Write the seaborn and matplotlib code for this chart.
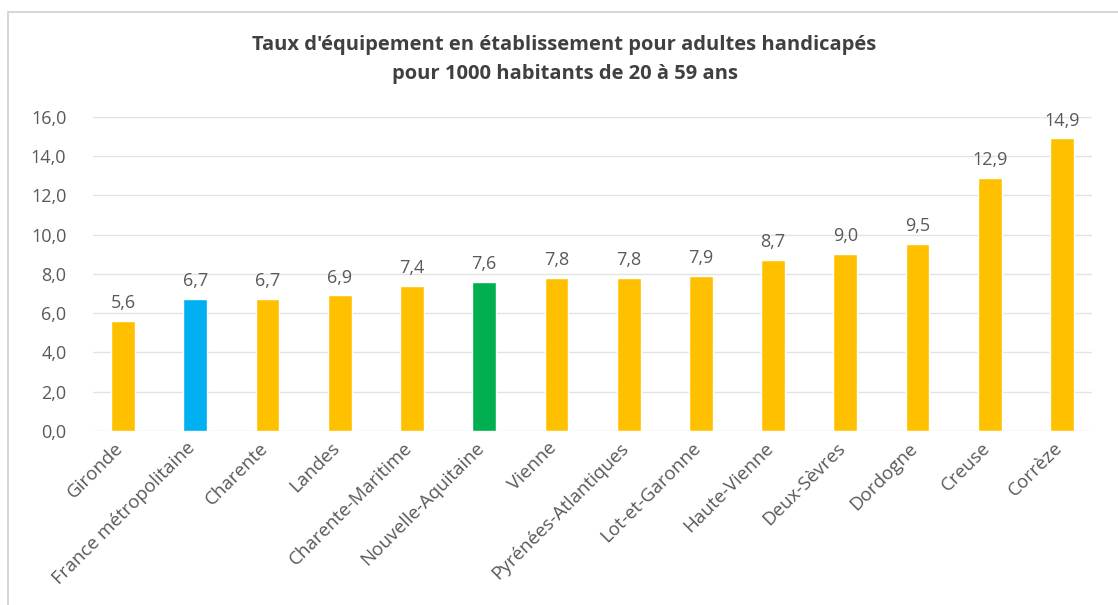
import matplotlib
matplotlib.use("Agg")
import matplotlib.pyplot as plt
import matplotlib.transforms as mtransforms
import seaborn as sns
import pandas as pd
from matplotlib.patches import Rectangle

territoires = ["Gironde", "France métropolitaine", "Charente", "Landes",
               "Charente-Maritime", "Nouvelle-Aquitaine", "Vienne",
               "Pyrénées-Atlantiques", "Lot-et-Garonne", "Haute-Vienne",
               "Deux-Sèvres", "Dordogne", "Creuse", "Corrèze"]
taux = [5.6, 6.7, 6.7, 6.9, 7.4, 7.6, 7.8, 7.8, 7.9, 8.7, 9.0, 9.5, 12.9, 14.9]

ORANGE, BLUE, GREEN = "#FFC000", "#00B0F0", "#00B050"
couleurs = {t: ORANGE for t in territoires}
couleurs["France métropolitaine"] = BLUE
couleurs["Nouvelle-Aquitaine"] = GREEN

df = pd.DataFrame({"territoire": territoires, "taux": taux})

sns.set_theme(style="white")
plt.rcParams["font.family"] = ["Open Sans", "DejaVu Sans"]

fig = plt.figure(figsize=(11.18, 6.05), dpi=100)
ax = fig.add_axes([0.083, 0.288, 0.894, 0.519])

sns.barplot(data=df, x="territoire", y="taux", hue="territoire",
            palette=couleurs, width=0.33, legend=False, ax=ax,
            saturation=1, zorder=3)

ax.set_ylim(0, 16)
ax.set_xlim(-0.42, 13.42)
ax.set_yticks(range(0, 17, 2))
ax.set_yticklabels([f"{v:.1f}".replace(".", ",") for v in range(0, 17, 2)],
                   color="#595959", fontsize=13)
ax.yaxis.grid(True, color="#e3e3e3", linewidth=1, zorder=0)
ax.set_axisbelow(True)
for s in ax.spines.values():
    s.set_visible(False)
ax.tick_params(axis="both", length=0)
ax.tick_params(axis="y", pad=19)
ax.tick_params(axis="x", pad=6)
ax.set_xlabel("")
ax.set_ylabel("")
ax.set_xticks(range(len(territoires)))
ax.set_xticklabels(territoires, rotation=45, ha="right",
                   rotation_mode="anchor", color="#595959", fontsize=13.5)
shift = mtransforms.ScaledTranslation(-9 / 100, 0, fig.dpi_scale_trans)
for lab in ax.get_xticklabels():
    lab.set_transform(lab.get_transform() + shift)

for i, v in enumerate(taux):
    ax.text(i, v + 0.45, f"{v:.1f}".replace(".", ","), ha="center",
            va="bottom", color="#595959", fontsize=13)

fig.text(0.505, 0.925, "Taux d'équipement en établissement pour adultes handicapés",
         ha="center", va="center", fontsize=14.5, fontweight="bold", color="#404040")
fig.text(0.505, 0.877, "pour 1000 habitants de 20 à 59 ans",
         ha="center", va="center", fontsize=14.5, fontweight="bold", color="#404040")

fig.patches.append(Rectangle((8 / 1118, -0.01), 1.1, 1 - 12 / 605 + 0.01,
                             transform=fig.transFigure, fill=False,
                             edgecolor="#d0d0d0", linewidth=1.2))

fig.savefig("out.png", dpi=100, facecolor="white")
